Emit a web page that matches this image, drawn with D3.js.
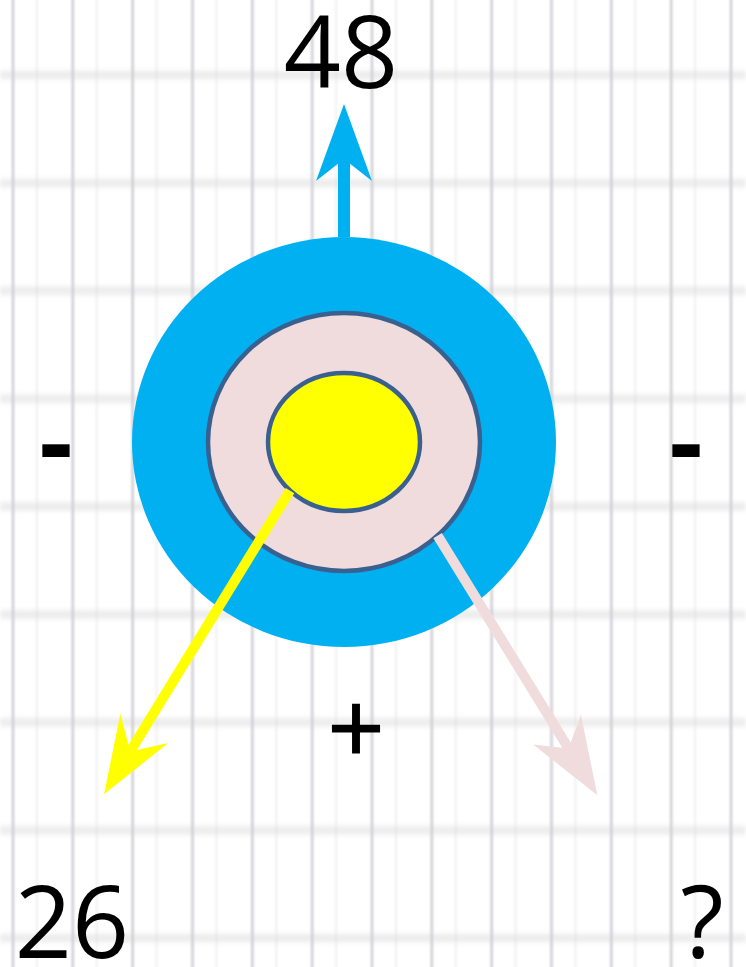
<!DOCTYPE html>
<html><head><meta charset="utf-8">
<script src="https://cdn.jsdelivr.net/npm/d3@7"></script>
<style>html,body{margin:0;padding:0;background:#fff;overflow:hidden}</style>
</head><body>
<script>
// ---- data ----
const arrowLabels = ["48", "26", "?"];          // top, bottom-left, bottom-right
const arrowStartAngles = [-90, 138, 45];        // where each arrow leaves its ring (degrees)
const arrowDirections = [-90, 121.5, 58.4];     // direction each arrow points (degrees)
const signs = ["-", "-", "+"];                  // left, right, bottom
const layers = ["outer", "middle", "core"];
const gridCols = d3.range(13);
const gridRows = d3.range(9);

// ---- layout ----
const W = 746, H = 967;
const cx = 344, cy = 442;
const colors = {outer: "#00b0f0", middle: "#f0dcdc", core: "#ffff00"};
const radii = {outer: [212, 205], middle: [136, 129], core: [76, 69]};
const arrowRing = ["outer", "core", "middle"];
const arrowColor = ["#00b0f0", "#ffff00", "#f0dcdc"];

const svg = d3.select("body").append("svg").attr("width", W).attr("height", H);
const defs = svg.append("defs");
defs.append("filter").attr("id", "blurH").attr("filterUnits", "userSpaceOnUse")
  .attr("x", -20).attr("y", -20).attr("width", W + 40).attr("height", H + 40)
  .append("feGaussianBlur").attr("stdDeviation", "2 3");
defs.append("filter").attr("id", "blurV").attr("filterUnits", "userSpaceOnUse")
  .attr("x", -20).attr("y", -20).attr("width", W + 40).attr("height", H + 40)
  .append("feGaussianBlur").attr("stdDeviation", "1 0");

const xGrid = d3.scaleLinear().domain([0, 12]).range([13, 731]);
const yGrid = d3.scaleLinear().domain([0, 8]).range([75, 938]);

const grid = svg.append("g");
grid.selectAll("line.v2").data(gridCols.slice(0, 12)).join("line").attr("class", "v2")
  .attr("x1", d => xGrid(d + 0.4)).attr("x2", d => xGrid(d + 0.4)).attr("y1", 0).attr("y2", H)
  .attr("stroke", "#f0f0f3").attr("stroke-width", 2).attr("filter", "url(#blurV)");
grid.selectAll("line.h").data(gridRows).join("line").attr("class", "h")
  .attr("x1", 0).attr("x2", W).attr("y1", d => yGrid(d)).attr("y2", d => yGrid(d))
  .attr("stroke", "#d8d8d8").attr("stroke-width", 5).attr("opacity", 0.8).attr("filter", "url(#blurH)");
grid.selectAll("line.v").data(gridCols).join("line").attr("class", "v")
  .attr("x1", d => xGrid(d)).attr("x2", d => xGrid(d)).attr("y1", 0).attr("y2", H)
  .attr("stroke", "#ceced4").attr("stroke-width", 2.5).attr("filter", "url(#blurV)");

// ---- rings ----
const g = svg.append("g");
g.selectAll("ellipse").data(layers).join("ellipse")
  .attr("cx", cx).attr("cy", cy)
  .attr("rx", d => radii[d][0]).attr("ry", d => radii[d][1])
  .attr("fill", d => colors[d])
  .attr("stroke", d => d === "outer" ? "none" : "#3a6090")
  .attr("stroke-width", 4.5);

// ---- arrows ----
function ellipsePoint(rx, ry, deg) {
  const a = deg * Math.PI / 180;
  const t = 1 / Math.sqrt((Math.cos(a) / rx) ** 2 + (Math.sin(a) / ry) ** 2);
  return [cx + t * Math.cos(a), cy + t * Math.sin(a)];
}
const arrowLens = [133, 356, 305];
const lineW = [12, 10, 10];
const headLen = [77, 77, 77], headHalf = [28, 28, 28], notchFromTip = [55, 50, 55];

arrowLabels.forEach((lab, i) => {
  const r = radii[arrowRing[i]];
  const [x0, y0] = ellipsePoint(r[0], r[1], arrowStartAngles[i]);
  const a = arrowDirections[i] * Math.PI / 180;
  const ux = Math.cos(a), uy = Math.sin(a), px = -uy, py = ux;
  const L = arrowLens[i];
  const tip = [x0 + ux * L, y0 + uy * L];
  const base = [tip[0] - ux * headLen[i], tip[1] - uy * headLen[i]];
  const nb = [tip[0] - ux * notchFromTip[i], tip[1] - uy * notchFromTip[i]];
  g.append("line").attr("x1", x0).attr("y1", y0).attr("x2", nb[0] + ux * 4).attr("y2", nb[1] + uy * 4)
    .attr("stroke", arrowColor[i]).attr("stroke-width", lineW[i]);
  const pts = [tip, [base[0] + px * headHalf[i], base[1] + py * headHalf[i]], nb,
               [base[0] - px * headHalf[i], base[1] - py * headHalf[i]]];
  g.append("path").attr("d", d3.line()(pts) + "Z").attr("fill", arrowColor[i]);
});

// ---- text ----
const font = "'Open Sans', 'Noto Sans', sans-serif";
const labelPos = [[341, 88], [72, 958], [702, 958]];
svg.selectAll("text.lab").data(arrowLabels).join("text").attr("class", "lab")
  .attr("x", (d, i) => labelPos[i][0]).attr("y", (d, i) => labelPos[i][1])
  .attr("text-anchor", "middle").attr("font-family", font).attr("font-size", 100)
  .attr("fill", "#000").text(d => d);
const signPos = [[56, 479], [686, 479], [356, 764]];
svg.selectAll("text.sign").data(signs).join("text").attr("class", "sign")
  .attr("x", (d, i) => signPos[i][0]).attr("y", (d, i) => signPos[i][1])
  .attr("text-anchor", "middle").attr("font-family", font)
  .attr("font-size", (d, i) => i < 2 ? 104 : 100)
  .attr("font-weight", (d, i) => i < 2 ? 700 : 400)
  .attr("stroke", "#000").attr("stroke-width", (d, i) => i < 2 ? 0 : 1.2)
  .attr("fill", "#000").text(d => d);
</script>
</body></html>
